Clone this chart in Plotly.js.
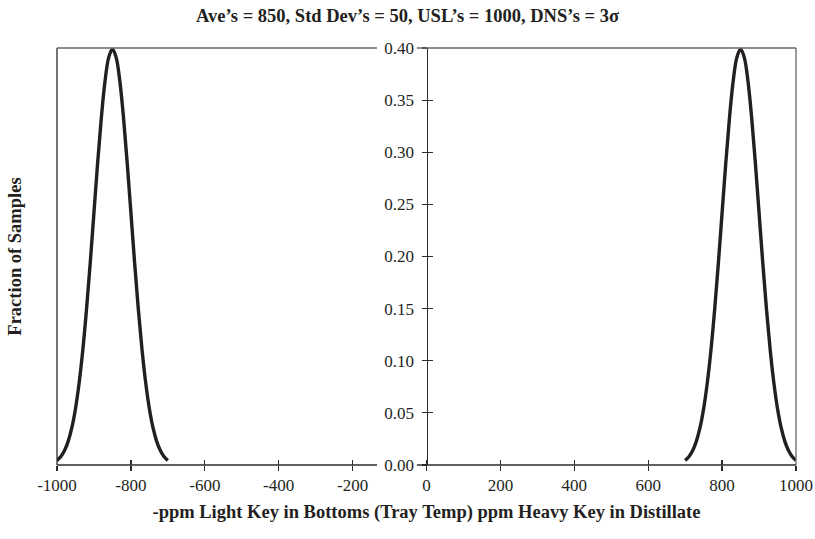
<!DOCTYPE html>
<html>
<head>
<meta charset="utf-8">
<script src="https://cdn.plot.ly/plotly-3.0.1.min.js"></script>
<style>html,body{margin:0;padding:0;background:#fff;}#chart{width:815px;height:539px;}</style>
</head>
<body>
<div id="chart"></div>
<script>
// Heavy key in distillate (right curve), ppm
var heavyX = [700,710,720,730,740,750,760,770,780,790,800,810,820,830,840,850,860,870,880,890,900,910,920,930,940,950,960,970,980,990,1000];
// Light key in bottoms (left curve), -ppm
var lightX = [-1000,-990,-980,-970,-960,-950,-940,-930,-920,-910,-900,-890,-880,-870,-860,-850,-840,-830,-820,-810,-800,-790,-780,-770,-760,-750,-740,-730,-720,-710,-700];
// Fraction of samples
var fracY = [0.0044,0.0079,0.0136,0.0224,0.0355,0.0540,0.0790,0.1109,0.1497,0.1942,0.2420,0.2897,0.3332,0.3683,0.3910,0.3989,0.3910,0.3683,0.3332,0.2897,0.2420,0.1942,0.1497,0.1109,0.0790,0.0540,0.0355,0.0224,0.0136,0.0079,0.0044];

var xTickVals = [-1000,-800,-600,-400,-200,0,200,400,600,800,1000];
var xTickText = ['-1000','-800','-600','-400','-200','0','200','400','600','800','1000'];
var yTickVals = [0,0.05,0.10,0.15,0.20,0.25,0.30,0.35,0.40];
var yTickText = ['0.00','0.05','0.10','0.15','0.20','0.25','0.30','0.35','0.40'];

var lineStyle = {color:'#231f20', width:3.4, shape:'spline', smoothing:1};
var traces = [
  {x: lightX, y: fracY, type:'scatter', mode:'lines', line: lineStyle, hoverinfo:'skip'},
  {x: heavyX, y: fracY, type:'scatter', mode:'lines', line: lineStyle, hoverinfo:'skip'},
  {x: [0], y: [0], xaxis:'x2', yaxis:'y2', mode:'markers', marker:{opacity:0}, hoverinfo:'skip'}
];

var serif = 'Liberation Serif, Times New Roman, serif';
var axColor = '#2e2a26';
var frameColor = '#6b665f';
var gapL = 0.433, gapR = 0.487;
var layout = {
  width: 815, height: 539,
  margin: {l:57, r:19, t:48, b:74},
  paper_bgcolor:'#fff', plot_bgcolor:'#fff',
  showlegend:false,
  font:{family: serif, size:17, color:'#231f20'},
  title:{text:"Ave’s = 850, Std Dev’s = 50, USL’s = 1000, DNS’s = 3σ", font:{family: serif, size:18.5, color:'#231f20', weight:'bold'}, x:0.5, xanchor:'center', y:0.972, yanchor:'middle'},
  xaxis:{range:[-1000,1000], tickvals:xTickVals, ticktext:xTickText, ticks:'outside', ticklen:5, tickwidth:1.2, tickcolor:axColor,
         showline:false, showgrid:false, zeroline:false,
         tickfont:{family:serif, size:17, color:'#231f20'},
         title:{text:'-ppm Light Key in Bottoms (Tray Temp) ppm Heavy Key in Distillate', font:{family:serif, size:18.5, color:'#231f20', weight:'bold'}, standoff:10}},
  xaxis2:{range:[-1000,1000], overlaying:'x', tickvals:xTickVals, ticks:'inside', ticklen:5, tickwidth:1.2, tickcolor:axColor, showticklabels:false, showline:false, showgrid:false, zeroline:false},
  yaxis:{range:[0,0.40], tickvals:yTickVals, ticktext:yTickText, ticks:'outside', ticklen:5, tickwidth:1.2, tickcolor:axColor,
         anchor:'free', position:0.5, showline:true, linecolor:axColor, linewidth:1.3, showgrid:false, zeroline:false,
         ticklabelstandoff:4,
         tickfont:{family:serif, size:17, color:'#231f20'}},
  yaxis2:{range:[0,0.40], overlaying:'y', anchor:'free', position:0.5, tickvals:yTickVals, ticks:'inside', ticklen:5, tickwidth:1.2, tickcolor:axColor, showticklabels:false, showline:false, showgrid:false, zeroline:false},
  shapes:[
    {type:'line', xref:'paper', yref:'paper', x0:0, x1:0, y0:0, y1:1, line:{color:axColor, width:1.3}},
    {type:'line', xref:'paper', yref:'paper', x0:1, x1:1, y0:0, y1:1, line:{color:frameColor, width:1.3}},
    {type:'line', xref:'paper', yref:'paper', x0:0, x1:gapL, y0:1, y1:1, line:{color:frameColor, width:1.3}},
    {type:'line', xref:'paper', yref:'paper', x0:gapR, x1:1, y0:1, y1:1, line:{color:frameColor, width:1.3}},
    {type:'line', xref:'paper', yref:'paper', x0:0, x1:gapL, y0:0, y1:0, line:{color:axColor, width:1.3}},
    {type:'line', xref:'paper', yref:'paper', x0:gapR, x1:1, y0:0, y1:0, line:{color:axColor, width:1.3}}
  ],
  annotations:[
    {text:'Fraction of Samples', xref:'paper', yref:'paper', x:-0.058, y:0.5, xanchor:'center', yanchor:'middle', textangle:-90, showarrow:false,
     font:{family:serif, size:18.5, color:'#231f20', weight:'bold'}}
  ]
};
Plotly.newPlot('chart', traces, layout, {displayModeBar:false, staticPlot:true});
</script>
</body>
</html>
